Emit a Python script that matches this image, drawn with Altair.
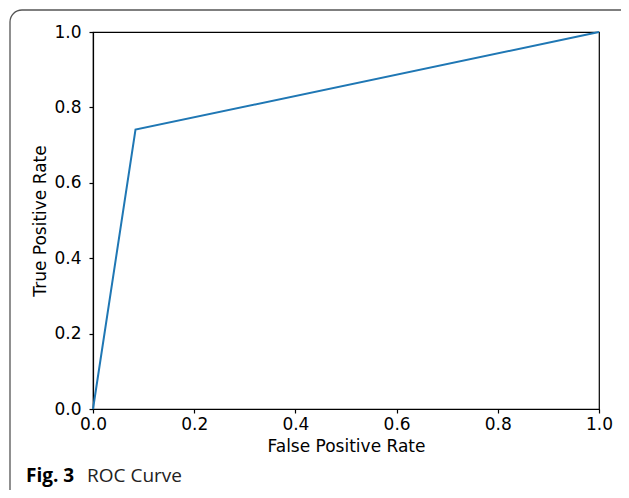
import altair as alt
import pandas as pd

fpr = [0.0, 0.084, 1.0]
tpr = [0.0, 0.741, 1.0]
ticks = [0.0, 0.2, 0.4, 0.6, 0.8, 1.0]
caption_label = "Fig. 3"
caption_text = "ROC Curve"

df = pd.DataFrame({"fpr": fpr, "tpr": tpr})

x_enc = alt.X("fpr:Q", title="False Positive Rate",
              scale=alt.Scale(domain=[0, 1], nice=False, zero=False),
              axis=alt.Axis(values=ticks, format=".1f", grid=False, tickSize=4,
                            labelFlush=False, labelPadding=3, titlePadding=6))
y_enc = alt.Y("tpr:Q", title="True Positive Rate",
              scale=alt.Scale(domain=[0, 1], nice=False, zero=False),
              axis=alt.Axis(values=ticks, format=".1f", grid=False, tickSize=4,
                            labelFlush=False, labelPadding=8, titlePadding=4))

line = alt.Chart(df).mark_line(color="#1f77b4", strokeWidth=2, clip=False).encode(
    x=x_enc, y=y_enc, order=alt.Order("fpr:Q"))

frame_df = pd.DataFrame({"k": [0]})
frame = alt.Chart(frame_df).mark_rect(
    fill=None, stroke="#555555", strokeWidth=1.3, cornerRadius=12
).encode(x=alt.value(-83), x2=alt.value(560), y=alt.value(-22), y2=alt.value(480))

cap_df = pd.DataFrame({"a": [caption_label], "b": [caption_text]})
cap1 = alt.Chart(cap_df).mark_text(
    align="left", baseline="alphabetic", font="Open Sans", fontWeight="bold",
    fontSize=19, color="black"
).encode(x=alt.value(-67), y=alt.value(450), text="a:N")
cap2 = alt.Chart(cap_df).mark_text(
    align="left", baseline="alphabetic", font="Open Sans", fontWeight="normal",
    fontSize=19, color="#222222"
).encode(x=alt.value(-6), y=alt.value(450), text="b:N")

chart = alt.layer(line, frame, cap1, cap2).properties(
    width=506, height=377,
    autosize=alt.AutoSizeParams(type="none"),
    padding={"left": 85, "top": 24, "right": 22, "bottom": 81},
    background="white",
).configure_view(stroke="black", strokeWidth=1.2).configure_axis(
    labelFont="DejaVu Sans", titleFont="DejaVu Sans", labelFontSize=17,
    titleFontSize=17, titleFontWeight="normal", labelColor="black",
    titleColor="black", domainColor="black", tickColor="black", domainWidth=1.2,
    tickWidth=1.2
)

chart.save("out.html", embed_options={"renderer": "svg", "actions": False})
